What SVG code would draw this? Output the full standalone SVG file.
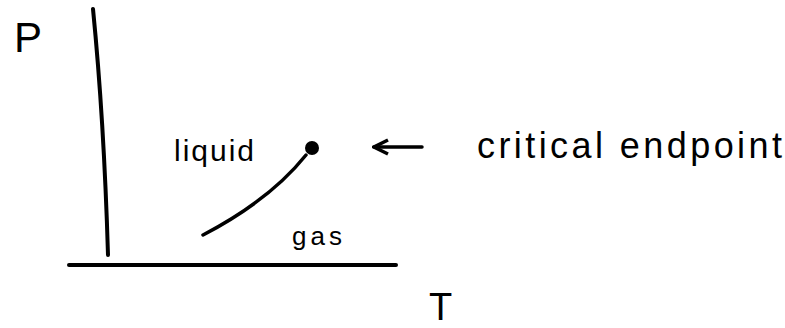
<svg xmlns="http://www.w3.org/2000/svg" width="785" height="328" viewBox="0 0 785 328">
<style>
.ax{fill:none;stroke:#000;stroke-width:4;stroke-linecap:round}
.ln{fill:none;stroke:#000;stroke-width:3.5;stroke-linecap:round}
.t{font-family:"Liberation Sans",Arial,sans-serif;fill:#000}
</style>
<defs>
<marker id="ah" viewBox="0 0 10 10" refX="9" refY="5" markerWidth="5" markerHeight="5" orient="auto">
<path d="M1,1 L9,5 L1,9" fill="none" stroke="#000" stroke-width="2"/>
</marker>
</defs>
<rect width="785" height="328" fill="#fff"/>
<g id="axes">
<path class="ax" d="M93,9 Q104,120 108,255"/>
<path class="ax" d="M69,265 L396,265"/>
</g>
<g id="labels">
<text class="t" x="14" y="52" font-size="42">P</text>
<text class="t" x="429" y="320" font-size="38">T</text>
<text class="t" x="174" y="161" font-size="30" textLength="80">liquid</text>
<text class="t" x="292" y="245" font-size="26" textLength="50">gas</text>
</g>
<g id="critical-point">
<circle cx="312" cy="148" r="7" fill="#000"/>
<path class="ln" d="M203,235 Q270,200 306,155"/>
</g>
<g id="connectors">
<path class="ln" d="M422,147 L374,147" marker-end="url(#ah)"/>
</g>
<g id="note">
<text class="t" x="477" y="158" font-size="36" textLength="305">critical endpoint</text>
</g>
</svg>
